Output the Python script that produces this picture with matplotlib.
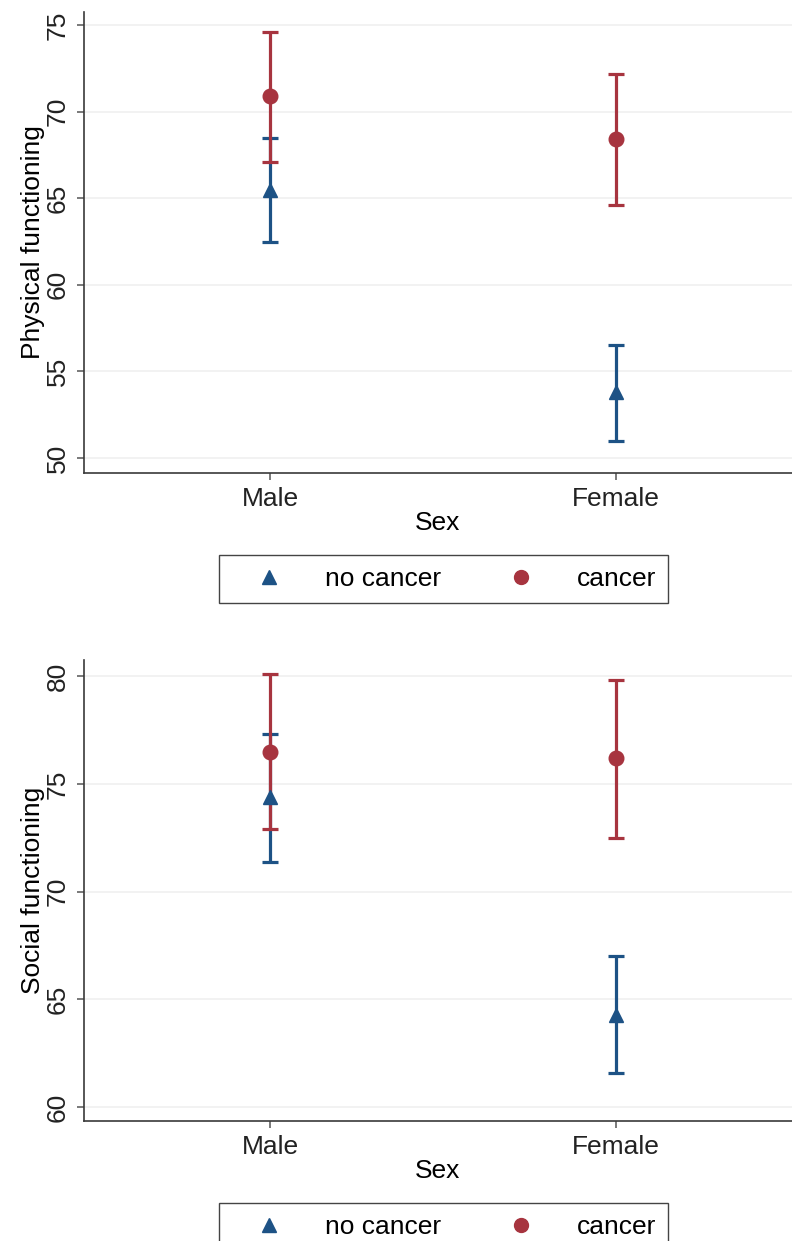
import matplotlib
matplotlib.use("Agg")
import matplotlib.pyplot as plt
from matplotlib.lines import Line2D

# --- data ----------------------------------------------------------------------
sexes = ["Male", "Female"]
groups = ["no cancer", "cancer"]

phys_mean = {"no cancer": [65.5, 53.8], "cancer": [70.9, 68.4]}
phys_lo = {"no cancer": [62.5, 51.0], "cancer": [67.1, 64.6]}
phys_hi = {"no cancer": [68.5, 56.5], "cancer": [74.6, 72.2]}

soc_mean = {"no cancer": [74.4, 64.3], "cancer": [76.5, 76.2]}
soc_lo = {"no cancer": [71.4, 61.6], "cancer": [72.9, 72.5]}
soc_hi = {"no cancer": [77.3, 67.0], "cancer": [80.1, 79.8]}

phys_ticks = [50, 55, 60, 65, 70, 75]
soc_ticks = [60, 65, 70, 75, 80]

# --- style ---------------------------------------------------------------------
colors = {"no cancer": "#1d5285", "cancer": "#a7343f"}
markers = {"no cancer": "^", "cancer": "o"}
axis_col = "#3a3a3a"
FS = 19

plt.rcParams["font.family"] = ["Liberation Sans", "DejaVu Sans"]

fig = plt.figure(figsize=(7.92, 12.41), dpi=100)


def panel(rect, mean, lo, hi, ticks, ylim, ylabel, legend_y):
    ax = fig.add_axes(rect)
    x = [1, 2]
    for g in groups:
        m = mean[g]
        err = [[m[i] - lo[g][i] for i in range(2)], [hi[g][i] - m[i] for i in range(2)]]
        ax.errorbar(x, m, yerr=err, fmt=markers[g], color=colors[g], ms=10.5,
                    elinewidth=2.3, capsize=6, capthick=2.3, zorder=3)
    ax.set_xlim(0.462, 2.51)
    ax.set_ylim(*ylim)
    ax.set_xticks(x)
    ax.set_xticklabels(sexes, fontsize=FS)
    ax.set_yticks(ticks)
    ax.set_yticklabels([str(t) for t in ticks], fontsize=FS, rotation=90, va="center")
    ax.set_xlabel("Sex", fontsize=FS, labelpad=0)
    ax.set_ylabel(ylabel, fontsize=FS, labelpad=1)
    ax.grid(axis="y", color="#f0f0f0", linewidth=1.2, zorder=0)
    ax.set_axisbelow(True)
    for s in ["top", "right"]:
        ax.spines[s].set_visible(False)
    for s in ["left", "bottom"]:
        ax.spines[s].set_color(axis_col)
        ax.spines[s].set_linewidth(1.2)
    ax.tick_params(axis="both", direction="out", length=5, width=1.1,
                   color="#555555", labelcolor="#222222", pad=5)

    handles = [Line2D([], [], linestyle="none", marker=markers[g], color=colors[g],
                      markersize=10) for g in groups]
    fig.legend(handles, groups, ncol=2, loc="center", bbox_to_anchor=(0.56, legend_y),
               fontsize=FS, frameon=True, fancybox=False, edgecolor="#444444",
               handlelength=2.9, handletextpad=0.65, columnspacing=1.6,
               borderpad=0.45, framealpha=1)
    return ax


panel([84 / 792, 1 - 473 / 1241, 1 - 84 / 792, 461 / 1241], phys_mean, phys_lo, phys_hi,
      phys_ticks, (49.14, 75.75), "Physical functioning", 1 - 579 / 1241)
panel([84 / 792, 1 - 1121 / 1241, 1 - 84 / 792, 461 / 1241], soc_mean, soc_lo, soc_hi,
      soc_ticks, (59.36, 80.75), "Social functioning", 1 - 1227 / 1241)

fig.savefig("out.png", dpi=100)
